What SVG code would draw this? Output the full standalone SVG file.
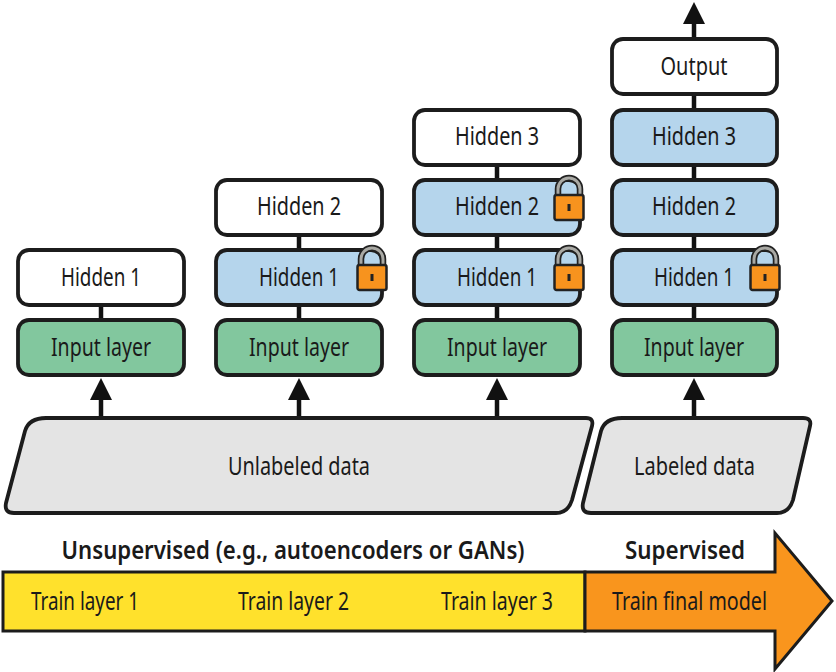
<svg xmlns="http://www.w3.org/2000/svg" width="836" height="672" viewBox="0 0 836 672">
<style>
.box{stroke:#1c1c1c;stroke-width:3.800}
.w{fill:#fff}.b{fill:#b5d5ec}.g{fill:#82c79e}.d{fill:#e4e4e4}
text{font-family:"Noto Sans","Liberation Sans",sans-serif;font-size:25px;fill:#1a1a1a;text-anchor:middle}
.h{font-weight:600;font-size:26px}
.c{stroke:#111;stroke-width:4.500;fill:none}
.bar{stroke:#1c1c1c;stroke-width:3}
</style>
<defs>
<marker id="ah" markerUnits="userSpaceOnUse" markerWidth="24" markerHeight="22" refX="11" refY="0" orient="auto" viewBox="0 -11 22 22"><path d="M0-11L22 0L0 11Z" fill="#111"/></marker>
<g id="lock">
<path d="M4 18V12a11 11 0 0 1 22 0V18" fill="none" stroke="#222" stroke-width="6.500"/>
<path d="M4 18V12a11 11 0 0 1 22 0V18" fill="none" stroke="#a9a9a4" stroke-width="3"/>
<rect x="0.500" y="18" width="29" height="25" rx="2" fill="#f7931e" stroke="#222" stroke-width="2.500"/>
<rect x="13.500" y="27" width="3" height="7" fill="#222"/>
</g>
</defs>
<rect width="836" height="672" fill="#fff"/>
<g id="connectors">
<path class="c" d="M497 165V180M497 235V250M299 235V250M101 305V320M299 305V320M497 305V320M694 94V110M694 165V180M694 235V250M694 305V320"/>
<path class="c" d="M101 417V389" marker-end="url(#ah)"/>
<path class="c" d="M299 417V389" marker-end="url(#ah)"/>
<path class="c" d="M497 417V389" marker-end="url(#ah)"/>
<path class="c" d="M694 417V389" marker-end="url(#ah)"/>
<path class="c" d="M694 39V13" marker-end="url(#ah)"/>
</g>
<g id="c1-hidden1"><rect class="box w" x="18" y="250" width="166" height="55" rx="11"/><text x="101" y="286" textLength="80" lengthAdjust="spacingAndGlyphs">Hidden 1</text></g>
<g id="c1-input"><rect class="box g" x="18" y="320" width="166" height="55" rx="11"/><text x="101" y="356" textLength="100" lengthAdjust="spacingAndGlyphs">Input layer</text></g>
<g id="c2-hidden2"><rect class="box w" x="216" y="180" width="166" height="55" rx="11"/><text x="299" y="215" textLength="84" lengthAdjust="spacingAndGlyphs">Hidden 2</text></g>
<g id="c2-hidden1"><rect class="box b" x="216" y="250" width="166" height="55" rx="11"/><text x="299" y="286" textLength="80" lengthAdjust="spacingAndGlyphs">Hidden 1</text><use href="#lock" x="357" y="247"/></g>
<g id="c2-input"><rect class="box g" x="216" y="320" width="166" height="55" rx="11"/><text x="299" y="356" textLength="100" lengthAdjust="spacingAndGlyphs">Input layer</text></g>
<g id="c3-hidden3"><rect class="box w" x="414" y="110" width="166" height="55" rx="11"/><text x="497" y="145" textLength="84" lengthAdjust="spacingAndGlyphs">Hidden 3</text></g>
<g id="c3-hidden2"><rect class="box b" x="414" y="180" width="166" height="55" rx="11"/><text x="497" y="215" textLength="84" lengthAdjust="spacingAndGlyphs">Hidden 2</text><use href="#lock" x="554" y="177"/></g>
<g id="c3-hidden1"><rect class="box b" x="414" y="250" width="166" height="55" rx="11"/><text x="497" y="286" textLength="80" lengthAdjust="spacingAndGlyphs">Hidden 1</text><use href="#lock" x="554" y="247"/></g>
<g id="c3-input"><rect class="box g" x="414" y="320" width="166" height="55" rx="11"/><text x="497" y="356" textLength="100" lengthAdjust="spacingAndGlyphs">Input layer</text></g>
<g id="c4-output"><rect class="box w" x="612" y="39" width="165" height="55" rx="11"/><text x="694" y="75" textLength="67" lengthAdjust="spacingAndGlyphs">Output</text></g>
<g id="c4-hidden3"><rect class="box b" x="612" y="110" width="165" height="55" rx="11"/><text x="694" y="145" textLength="84" lengthAdjust="spacingAndGlyphs">Hidden 3</text></g>
<g id="c4-hidden2"><rect class="box b" x="612" y="180" width="165" height="55" rx="11"/><text x="694" y="215" textLength="84" lengthAdjust="spacingAndGlyphs">Hidden 2</text></g>
<g id="c4-hidden1"><rect class="box b" x="612" y="250" width="165" height="55" rx="11"/><text x="694" y="286" textLength="80" lengthAdjust="spacingAndGlyphs">Hidden 1</text><use href="#lock" x="750" y="247"/></g>
<g id="c4-input"><rect class="box g" x="612" y="320" width="165" height="55" rx="11"/><text x="694" y="356" textLength="100" lengthAdjust="spacingAndGlyphs">Input layer</text></g>
<g id="unlabeled"><path class="box d" d="M46 418H586Q594 418 592 426L572 500Q568 513 556 513H14Q4 513 6 503L25 431Q29 418 46 418Z"/><text x="299" y="475" textLength="142" lengthAdjust="spacingAndGlyphs">Unlabeled data</text></g>
<g id="labeled"><path class="box d" d="M622 418H803Q812 418 810 426L793 500Q789 513 777 513H591Q581 513 583 503L601 431Q605 418 622 418Z"/><text x="694.500" y="475" textLength="121" lengthAdjust="spacingAndGlyphs">Labeled data</text></g>
<g id="timeline">
<rect class="bar" x="3" y="572" width="582" height="59" fill="#ffe12c"/>
<path class="bar" d="M585 572H775V533L832 601L775 669V631H585Z" fill="#f9951d"/>
<text class="h" x="293" y="559" textLength="463" lengthAdjust="spacingAndGlyphs">Unsupervised (e.g., autoencoders or GANs)</text>
<text class="h" x="685" y="559" textLength="120" lengthAdjust="spacingAndGlyphs">Supervised</text>
<text x="85" y="610" textLength="108" lengthAdjust="spacingAndGlyphs">Train layer 1</text>
<text x="293.500" y="610" textLength="111" lengthAdjust="spacingAndGlyphs">Train layer 2</text>
<text x="497" y="610" textLength="112" lengthAdjust="spacingAndGlyphs">Train layer 3</text>
<text x="689.500" y="610" textLength="155" lengthAdjust="spacingAndGlyphs">Train final model</text>
</g>
</svg>
